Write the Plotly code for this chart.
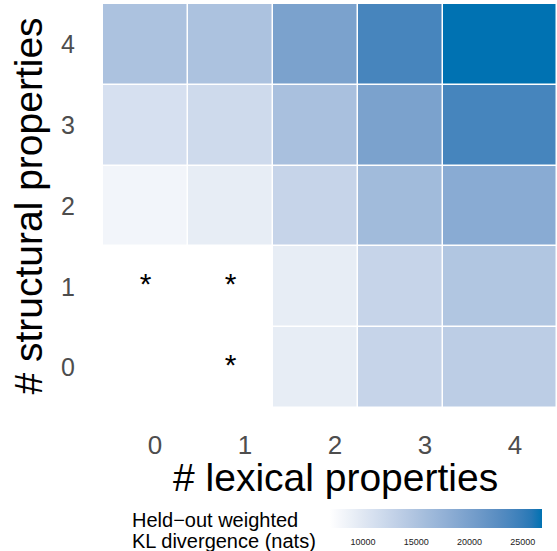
import plotly.graph_objects as go

# ---------------- data ----------------
lexical = [0, 1, 2, 3, 4]
structural = [0, 1, 2, 3, 4]
# rows: structural 0..4, columns: lexical 0..4 (None = not estimated)
kl_struct0 = [None, None, 9270, 12610, 13520]
kl_struct1 = [None, None, 9270, 12610, 14620]
kl_struct2 = [8210, 9270, 12610, 16140, 18460]
kl_struct3 = [11000, 11810, 15360, 19740, 24000]
kl_struct4 = [15120, 15120, 19740, 23960, 26800]
star_lex = [0, 1, 1]
star_struct = [1, 1, 0]
cb_ticks = [10000, 15000, 20000, 25000]
kl_min, kl_max = 6900, 26800

kl = [kl_struct0, kl_struct1, kl_struct2, kl_struct3, kl_struct4]

# -------------- Lab colour ramp (white -> #0072B2) --------------
def _lin(c):
    c = c / 255.0
    return c / 12.92 if c <= 0.04045 else ((c + 0.055) / 1.055) ** 2.4

def _gam(c):
    c = max(0.0, min(1.0, c))
    return 12.92 * c if c <= 0.0031308 else 1.055 * c ** (1 / 2.4) - 0.055

def _f(t):
    return t ** (1 / 3) if t > 0.008856 else 7.787 * t + 16 / 116

def _finv(t):
    return t ** 3 if t ** 3 > 0.008856 else (t - 16 / 116) / 7.787

def hex_to_lab(h):
    r, g, b = (_lin(int(h[i:i + 2], 16)) for i in (1, 3, 5))
    X = (0.4124 * r + 0.3576 * g + 0.1805 * b) / 0.95047
    Y = 0.2126 * r + 0.7152 * g + 0.0722 * b
    Z = (0.0193 * r + 0.1192 * g + 0.9505 * b) / 1.08883
    fx, fy, fz = _f(X), _f(Y), _f(Z)
    return 116 * fy - 16, 500 * (fx - fy), 200 * (fy - fz)

def lab_to_rgb(L, a, b):
    fy = (L + 16) / 116
    fx = fy + a / 500
    fz = fy - b / 200
    X, Y, Z = _finv(fx) * 0.95047, _finv(fy), _finv(fz) * 1.08883
    r = 3.2406 * X - 1.5372 * Y - 0.4986 * Z
    g = -0.9689 * X + 1.8758 * Y + 0.0415 * Z
    bb = 0.0557 * X - 0.2040 * Y + 1.0570 * Z
    return "rgb(%d,%d,%d)" % tuple(round(_gam(c) * 255) for c in (r, g, bb))

lo, hi = hex_to_lab("#FFFFFF"), hex_to_lab("#0072B2")
n = 20
colorscale = []
for i in range(n + 1):
    t = i / n
    colorscale.append([t, lab_to_rgb(*[lo[k] + (hi[k] - lo[k]) * t for k in range(3)])])

# x axis view: the last column runs to the right edge of the panel
x_range = [-0.5, 4.841]
x_edges = [c - 0.5 for c in lexical] + [x_range[1]]
y_edges = [c - 0.5 for c in structural] + [structural[-1] + 0.5]

# ---------------- figure ----------------
fig = go.Figure()
fig.add_trace(go.Heatmap(
    x=x_edges, y=y_edges, z=kl,
    zmin=kl_min, zmax=kl_max, colorscale=colorscale,
    xgap=1.5, ygap=1.5, hoverongaps=False,
    colorbar=dict(
        orientation="h", x=0.5, xanchor="left", y=-0.25, yanchor="top",
        len=212, lenmode="pixels", thickness=19, xpad=0, ypad=0,
        outlinewidth=0, tickvals=cb_ticks, tickformat="d",
        ticks="outside", ticklen=7, tickcolor="rgba(0,0,0,0)",
        tickfont=dict(size=9, color="#222222"),
    ),
))
fig.add_trace(go.Scatter(
    x=star_lex, y=star_struct, mode="text", text=["*"] * len(star_lex),
    textfont=dict(size=30, color="black"), hoverinfo="skip", showlegend=False,
))
fig.add_trace(go.Scatter(
    x=lexical, y=structural, xaxis="x2", mode="markers",
    marker=dict(opacity=0), hoverinfo="skip", showlegend=False,
))

fig.update_layout(
    width=557, height=551,
    margin=dict(l=103, r=0, t=4, b=143),
    paper_bgcolor="white", plot_bgcolor="white",
    font=dict(family="Liberation Sans, Arial, sans-serif", color="black"),
    xaxis=dict(range=x_range, showticklabels=False, showgrid=False,
               zeroline=False, showline=False, ticks=""),
    xaxis2=dict(overlaying="x", side="bottom", anchor="y",
                range=[-0.578, 4.467], tickvals=lexical,
                tickfont=dict(size=26, color="#4D4D4D"),
                showgrid=False, zeroline=False, showline=False, ticks="",
                ticklabelstandoff=19),
    yaxis=dict(range=[-0.5, 4.5], tickvals=structural,
               tickfont=dict(size=25, color="#4D4D4D"),
               showgrid=False, zeroline=False, showline=False, ticks="",
               ticklabelstandoff=27,
               title=dict(text="# structural properties",
                          font=dict(size=39, color="black"), standoff=6)),
    annotations=[
        dict(text="# lexical properties", xref="paper", yref="paper",
             x=(335 - 103) / 454, y=(408 - 477) / 404, xanchor="center",
             yanchor="middle", showarrow=False, font=dict(size=39, color="black")),
        dict(text="Held\u2212out weighted", xref="paper", yref="paper",
             x=(130 - 103) / 454, y=(408 - 519.5) / 404, xanchor="left",
             yanchor="middle", showarrow=False, font=dict(size=20, color="black")),
        dict(text="KL divergence (nats)", xref="paper", yref="paper",
             x=(130 - 103) / 454, y=(408 - 541) / 404, xanchor="left",
             yanchor="middle", showarrow=False, font=dict(size=20, color="black")),
    ],
)

fig.write_html("out.html", config={"displayModeBar": False},
               post_script="document.body.style.margin='0';")
